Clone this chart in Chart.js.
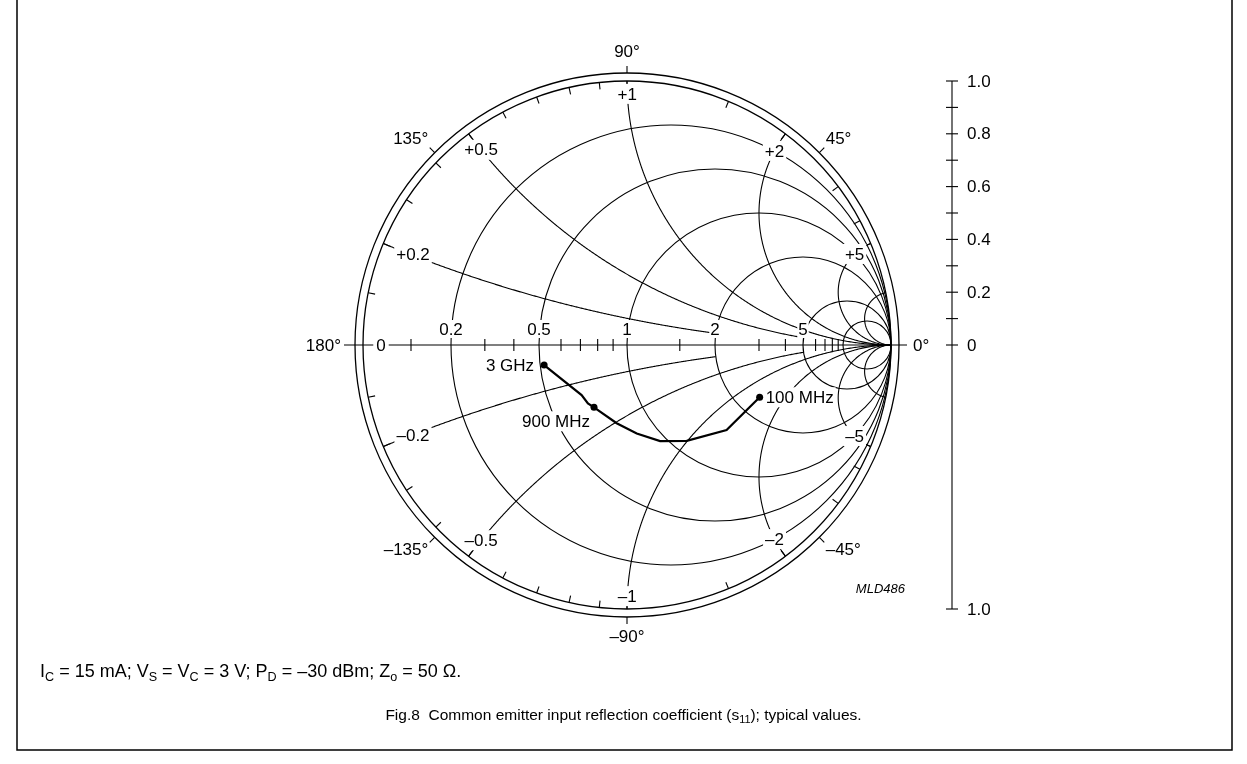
<!DOCTYPE html>
<html>
<head>
<meta charset="utf-8">
<script src="https://cdn.jsdelivr.net/npm/chart.js@4/dist/chart.umd.min.js"></script>
<style>
body { margin: 0; background: #fff; }
#wrap { position: relative; width: 1247px; height: 764px; overflow: hidden; }
#smith { position: absolute; left: 0; top: 0; }
.note { position: absolute; font-family: "Liberation Sans", Arial, sans-serif; color: #000; white-space: nowrap; }
.note sub { font-size: 70%; vertical-align: -0.3em; line-height: 0; }
</style>
</head>
<body>
<div id="wrap">
  <canvas id="smith" width="1247" height="764"></canvas>
  <div class="note" style="left:40px; top:661px; font-size:18px;">I<sub>C</sub> = 15 mA; V<sub>S</sub> = V<sub>C</sub> = 3 V; P<sub>D</sub> = –30 dBm; Z<sub>o</sub> = 50 Ω.</div>
  <div class="note" style="left:0; width:1247px; text-align:center; top:706px; font-size:15.5px;">Fig.8&nbsp;&nbsp;Common emitter input reflection coefficient (s<sub>11</sub>); typical values.</div>
</div>

<script>
// s11, going from 3 GHz down to 100 MHz
const pointLabels = ['3 GHz', '', '', '900 MHz', '', '', '', '', '', '100 MHz'];
const s11Mag = [0.323, 0.256, 0.266, 0.267, 0.299, 0.337, 0.385, 0.428, 0.496, 0.540];
const s11Ang = [-166.4, -132.2, -123.8, -117.9, -97.5, -83.7, -71.0, -58.1, -40.5, -21.5];

// smith grid
const resistanceCircles = [0.2, 0.5, 1, 2, 5, 10];
const resistanceLabels = ['0', '0.2', '0.5', '1', '2', '5'];
const reactanceArcs = [0.2, 0.5, 1, 2, 5, 10];
const reactanceEnds = [2, 5, Infinity, Infinity, Infinity, Infinity]; // arc stops at this r circle
const reactanceLabels = ['0.2', '0.5', '1', '2', '5', ''];
const axisTicks = [0.1, 0.3, 0.4, 0.6, 0.7, 0.8, 0.9, 1.5, 3, 4, 6, 7, 8, 9];
const rimTicks = [0.1, 0.2, 0.3, 0.4, 0.5, 0.6, 0.7, 0.8, 0.9, 1, 1.5, 2, 3, 4, 5];
const angleLabels = [0, 45, 90, 135, 180, -135, -90, -45];

// magnitude scale on the right
const magTicks = [0, 0.1, 0.2, 0.3, 0.4, 0.5, 0.6, 0.7, 0.8, 0.9, 1.0];
const magLabels = ['0', '0.2', '0.4', '0.6', '0.8', '1.0'];

const FONT = '"Liberation Sans", Arial, sans-serif';

function gamma(r, x) {
    if (!isFinite(r)) return [1, 0];
    const d = (r + 1) * (r + 1) + x * x;
    return [(r * r + x * x - 1) / d, 2 * x / d];
}

function labelBox(ctx, text, x, y, pad) {
    const w = ctx.measureText(text).width;
    ctx.fillStyle = '#fff';
    ctx.fillRect(x - w / 2 - pad, y - 8 - pad, w + 2 * pad, 16 + 2 * pad);
    ctx.fillStyle = '#000';
    ctx.textAlign = 'center';
    ctx.textBaseline = 'middle';
    ctx.fillText(text, x, y + 1);
}

const smithGrid = {
    id: 'smithGrid',
    beforeDatasetsDraw(chart) {
        const ctx = chart.ctx;
        const xs = chart.scales.x, ys = chart.scales.y;
        const cx = xs.getPixelForValue(0), cy = ys.getPixelForValue(0);
        const unit = xs.getPixelForValue(1) - cx;
        const P = (g) => [xs.getPixelForValue(g[0]), ys.getPixelForValue(g[1])];

        ctx.save();
        ctx.strokeStyle = '#000';

        // unit circle and outer angle circle
        ctx.lineWidth = 1.3;
        ctx.beginPath(); ctx.arc(cx, cy, unit, 0, Math.PI * 2); ctx.stroke();
        ctx.beginPath(); ctx.arc(cx, cy, unit + 8, 0, Math.PI * 2); ctx.stroke();
        ctx.lineWidth = 1.1;

        // resistance circles
        resistanceCircles.forEach(r => {
            const c = xs.getPixelForValue(r / (1 + r));
            ctx.beginPath();
            ctx.arc(c, cy, unit / (1 + r), 0, Math.PI * 2);
            ctx.stroke();
        });

        // reactance arcs, both signs
        reactanceArcs.forEach((x, i) => {
            const tEnd = isFinite(reactanceEnds[i]) ? reactanceEnds[i] / (1 + reactanceEnds[i]) : 1;
            [1, -1].forEach(s => {
                ctx.beginPath();
                for (let k = 0; k <= 400; k++) {
                    const t = tEnd * k / 400;
                    const r = t >= 1 ? Infinity : t / (1 - t);
                    const p = P(gamma(r, s * x));
                    if (k === 0) ctx.moveTo(p[0], p[1]); else ctx.lineTo(p[0], p[1]);
                }
                ctx.stroke();
            });
        });

        // horizontal axis
        ctx.beginPath();
        ctx.moveTo(cx - unit - 19, cy);
        ctx.lineTo(cx + unit + 16, cy);
        ctx.stroke();
        axisTicks.forEach(r => {
            const p = xs.getPixelForValue((r - 1) / (r + 1));
            ctx.beginPath(); ctx.moveTo(p, cy - 6); ctx.lineTo(p, cy + 6); ctx.stroke();
        });

        // ticks on the rim, pointing inwards
        rimTicks.forEach(x => {
            [1, -1].forEach(s => {
                const g = gamma(0, s * x);
                const a = Math.atan2(g[1], g[0]);
                ctx.beginPath();
                ctx.moveTo(cx + unit * Math.cos(a), cy - unit * Math.sin(a));
                ctx.lineTo(cx + (unit - 7) * Math.cos(a), cy - (unit - 7) * Math.sin(a));
                ctx.stroke();
            });
        });

        // angle ticks + labels
        ctx.font = '17px ' + FONT;
        ctx.fillStyle = '#000';
        angleLabels.forEach(d => {
            const a = d * Math.PI / 180;
            const co = Math.cos(a), si = Math.sin(a);
            if (Math.abs(co) < 0.99) {
                ctx.beginPath();
                ctx.moveTo(cx + (unit + 8) * co, cy - (unit + 8) * si);
                ctx.lineTo(cx + (unit + 15) * co, cy - (unit + 15) * si);
                ctx.stroke();
            }
            const diag = Math.abs(co) > 0.3 && Math.abs(si) > 0.3;
            const rl = diag ? unit + 17 : unit + 22;
            ctx.textAlign = co > 0.3 ? 'left' : (co < -0.3 ? 'right' : 'center');
            ctx.textBaseline = si > 0.3 ? 'bottom' : (si < -0.3 ? 'top' : 'middle');
            const txt = (d < 0 ? '–' + (-d) : String(d)) + '°';
            ctx.fillText(txt, cx + rl * co, cy - rl * si + (si > 0.3 ? 2 : (si < -0.3 ? -2 : 1)));
        });

        // resistance labels on the axis
        resistanceLabels.forEach((t, i) => {
            if (t === '0') {
                labelBox(ctx, t, xs.getPixelForValue(-1) + 18, cy, 3);
                return;
            }
            const r = resistanceCircles[i - 1];
            const p = xs.getPixelForValue((r - 1) / (r + 1));
            labelBox(ctx, t, p, cy - 16, 1);
        });

        // reactance labels near the rim
        const labelR = { '0.2': 0.06, '0.5': 0.05, '1': 0.05, '2': 0.2, '5': 1 };
        reactanceLabels.forEach((t, i) => {
            if (!t) return;
            [1, -1].forEach(s => {
                const p = P(gamma(labelR[t], s * reactanceArcs[i]));
                labelBox(ctx, (s > 0 ? '+' : '–') + t, p[0] + (t === '0.2' ? 3 : 0), p[1], 2);
            });
        });

        // frequency labels
        const meta = chart.getDatasetMeta(0);
        pointLabels.forEach((t, i) => {
            if (!t) return;
            const el = meta.data[i];
            const w = ctx.measureText(t).width;
            let x, y;
            if (i === 0) { x = el.x - 10 - w / 2; y = el.y; }
            else if (t === '900 MHz') { x = el.x - 4 - w / 2; y = el.y + 14; }
            else { x = el.x + 6 + w / 2; y = el.y; }
            labelBox(ctx, t, x, y, 2);
        });

        // magnitude scale on the right
        const sx = cx + unit + 61;
        ctx.beginPath();
        ctx.moveTo(sx, ys.getPixelForValue(1));
        ctx.lineTo(sx, ys.getPixelForValue(-1));
        ctx.stroke();
        magTicks.forEach(v => {
            const y = ys.getPixelForValue(v);
            ctx.beginPath(); ctx.moveTo(sx - 6, y); ctx.lineTo(sx + 6, y); ctx.stroke();
        });
        const yb = ys.getPixelForValue(-1);
        ctx.beginPath(); ctx.moveTo(sx - 6, yb); ctx.lineTo(sx + 6, yb); ctx.stroke();
        ctx.textAlign = 'left';
        ctx.textBaseline = 'middle';
        magLabels.forEach(t => {
            ctx.fillText(t, sx + 15, ys.getPixelForValue(parseFloat(t)) + 1);
        });
        ctx.fillText('1.0', sx + 15, yb + 1);

        // drawing code
        ctx.font = 'italic 13px ' + FONT;
        ctx.textAlign = 'right';
        ctx.fillText('MLD486', cx + unit + 14, ys.getPixelForValue(-1) - 20);

        // frame
        ctx.lineWidth = 1.5;
        ctx.beginPath();
        ctx.moveTo(17, 0); ctx.lineTo(17, 750); ctx.lineTo(1232, 750); ctx.lineTo(1232, 0);
        ctx.stroke();

        ctx.restore();
    }
};

const points = s11Mag.map((m, i) => {
    const a = s11Ang[i] * Math.PI / 180;
    return { x: m * Math.cos(a), y: m * Math.sin(a) };
});

new Chart(document.getElementById('smith'), {
    type: 'scatter',
    data: {
        datasets: [{
            data: points,
            showLine: true,
            borderColor: '#000',
            borderWidth: 2.2,
            pointRadius: pointLabels.map(t => t ? 3.5 : 0),
            pointBackgroundColor: '#000',
            pointBorderWidth: 0,
            tension: 0
        }]
    },
    options: {
        responsive: false,
        devicePixelRatio: 1,
        animation: false,
        layout: { padding: { left: 363, right: 356, top: 81, bottom: 155 } },
        scales: {
            x: { type: 'linear', min: -1, max: 1, display: false },
            y: { type: 'linear', min: -1, max: 1, display: false }
        },
        plugins: { legend: { display: false }, tooltip: { enabled: false } }
    },
    plugins: [smithGrid]
});
</script>
</body>
</html>
